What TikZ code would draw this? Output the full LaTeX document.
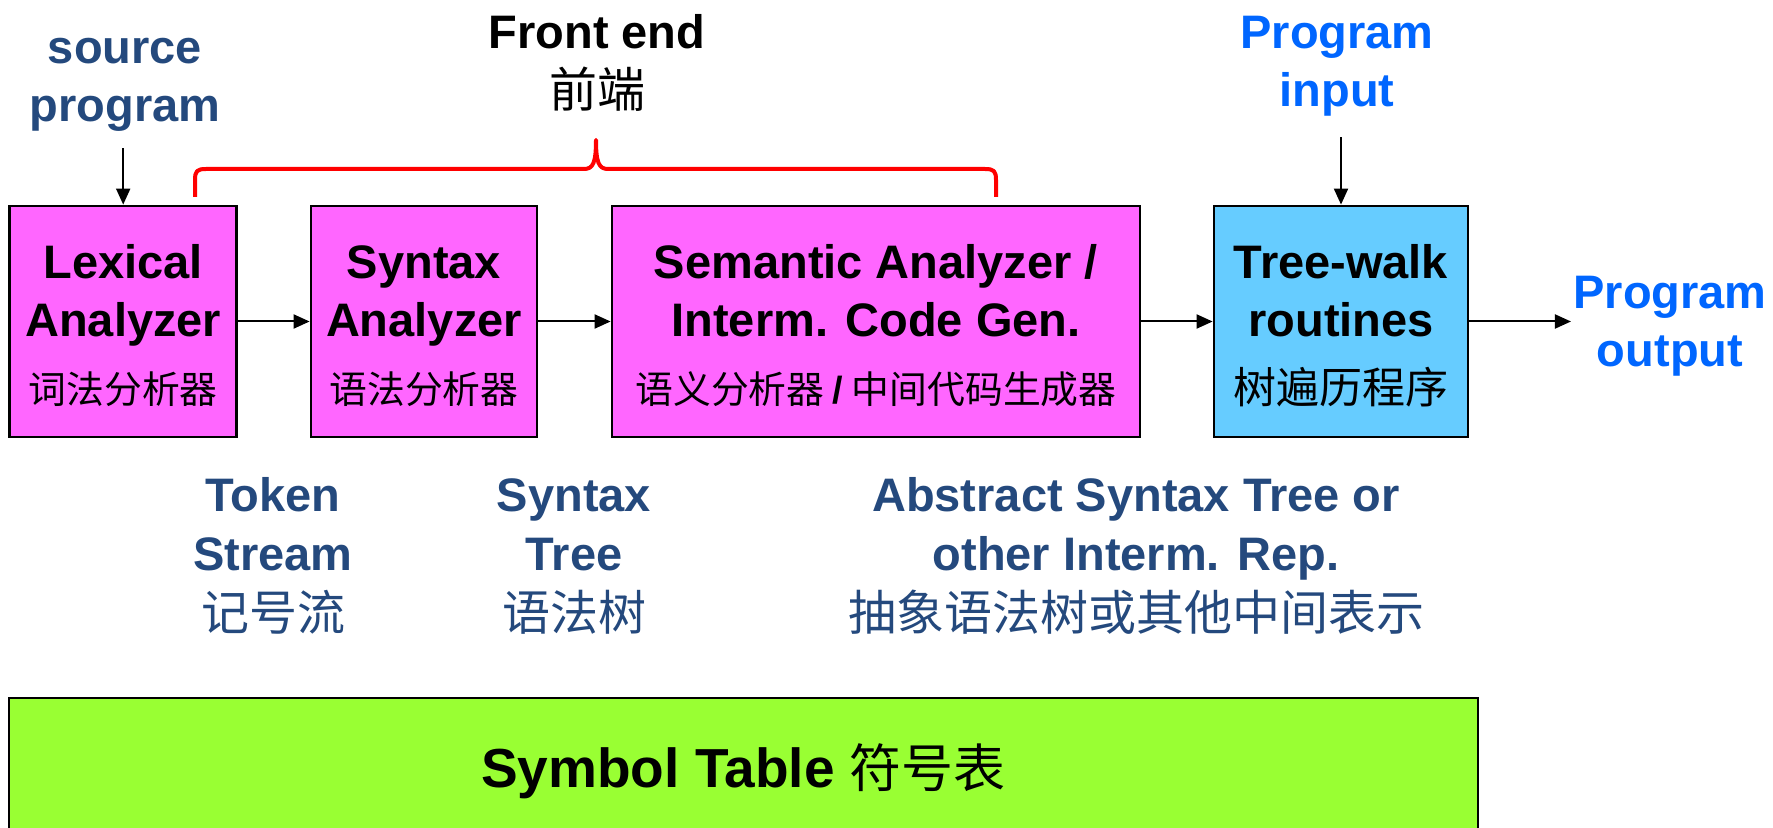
\documentclass[tikz,border=0pt]{standalone}
\usepackage{fontspec}
\setmainfont{Liberation Sans}
\newfontfamily\cjk{Noto Sans CJK SC}
\usetikzlibrary{arrows.meta}
\definecolor{pinkbox}{RGB}{255,102,255}
\definecolor{bluebox}{RGB}{102,204,255}
\definecolor{greenbox}{RGB}{153,255,51}
\definecolor{darkblue}{RGB}{36,73,125}
\definecolor{brightblue}{RGB}{0,102,255}
\newcommand\zhtxt[2]{{\cjk\mdseries\fontsize{#1}{29}\selectfont #2}}
\newcommand\topstrut{\rule{0pt}{25pt}}
\newcommand\botstrut{\rule[-5pt]{0pt}{5pt}}
\begin{document}
\begin{tikzpicture}[x=0.5pt,y=-0.5pt,
  stage/.style={draw=black, line width=1.4pt, inner sep=0pt, align=center,
    font=\bfseries\fontsize{23.5}{29}\selectfont, minimum height=115.5pt},
  lbl/.style={align=center, inner sep=1pt, anchor=base,
    font=\bfseries\fontsize{23.5}{29}\selectfont},
  arr/.style={-{Triangle[length=8pt,width=7pt]}, line width=1pt},
]
\useasboundingbox (0,0) rectangle (1773,828);

% stage boxes
\node[stage, fill=pinkbox, minimum width=113.5pt] (lex) at (123.2,321.5)
  {\topstrut Lexical\\Analyzer\\[4.5pt]\zhtxt{18.9}{词法分析器}\botstrut};
\node[stage, fill=pinkbox, minimum width=113pt] (syn) at (424,321.5)
  {\topstrut Syntax\\Analyzer\\[4.5pt]\zhtxt{18.9}{语法分析器}\botstrut};
\node[stage, fill=pinkbox, minimum width=264pt] (sem) at (876,321.5)
  {\topstrut Semantic Analyzer /\\Interm. Code Gen.\\[4.5pt]\zhtxt{18.9}{语义分析器 {\rmfamily\bfseries /} 中间代码生成器}\botstrut};
\node[stage, fill=bluebox, minimum width=127pt] (tree) at (1341,321.5)
  {\topstrut Tree-walk\\routines\\[4.5pt]\zhtxt{21.5}{树遍历程序}\botstrut};

% symbol table (cut by the lower edge)
\begin{scope}
  \clip (0,0) rectangle (1773,828);
  \node[draw=black, line width=1.4pt, fill=greenbox, minimum width=734.5pt,
    minimum height=73pt, inner sep=0pt] (symtab) at (743.5,771)
    {\bfseries\fontsize{27.5}{33}\selectfont Symbol Table \zhtxt{26}{符号表}};
\end{scope}

% labels (anchor = baseline of the last line)
\node[lbl, text=darkblue] (src) at (125,122) {source\\program};
\node[lbl, text=black] (fe) at (597,108) {Front end\\[0.5pt]\zhtxt{24}{前端}};
\node[lbl, text=brightblue] (pin) at (1337,107) {Program\\input};
\node[lbl, text=brightblue] (pout) at (1670,367) {Program\\output};
\node[lbl, text=darkblue] (tok) at (273,630) {Token\\Stream\\[1pt]\zhtxt{24}{记号流}};
\node[lbl, text=darkblue] (stx) at (574,630) {Syntax\\Tree\\[1pt]\zhtxt{24}{语法树}};
\node[lbl, text=darkblue] (ast) at (1136,630)
  {Abstract Syntax Tree or\\other Interm. Rep.\\[1pt]\zhtxt{24}{抽象语法树或其他中间表示}};

% connectors
\draw[arr, shorten <=7pt] (lex.north |- src.south) -- (lex.north);
\draw[arr, shorten <=9pt] (tree.north |- pin.south) -- (tree.north);
\draw[arr] (lex.east) -- (syn.west);
\draw[arr] (syn.east) -- (sem.west);
\draw[arr] (sem.east) -- (tree.west);
\draw[arr] (tree.east) -- (tree.east -| pout.west);

% front-end brace
\draw[red, line width=2pt, line join=round]
  (195,197) -- (195,180) .. controls (195,171) and (197,169) .. (206,169)
  -- (584,169) .. controls (593,169) and (596,163) .. (596,140)
  .. controls (596,163) and (599,169) .. (608,169)
  -- (985,169) .. controls (994,169) and (996,171) .. (996,180) -- (996,197);
\end{tikzpicture}
\end{document}
